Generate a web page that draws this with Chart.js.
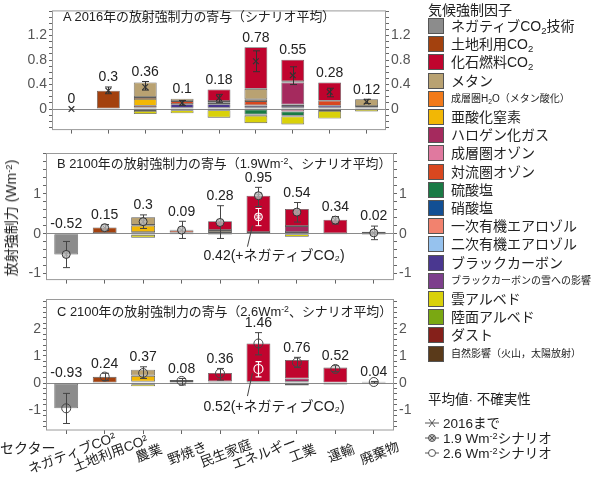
<!DOCTYPE html>
<html><head><meta charset="utf-8">
<script src="https://cdn.jsdelivr.net/npm/chart.js@4.4.0/dist/chart.umd.min.js"></script>
<style>
html,body{margin:0;padding:0;background:#fff;}
body{width:598px;height:478px;position:relative;overflow:hidden;font-family:'Liberation Sans','Noto Sans CJK JP',sans-serif;color:#222;}
canvas{position:absolute;left:0;}
.ttl{position:absolute;font-size:12.9px;line-height:16px;white-space:nowrap;color:#222;}
sub{font-size:0.68em;vertical-align:-0.3em;line-height:0;}
sup{font-size:0.68em;vertical-align:0.45em;line-height:0;}
#ytitle{position:absolute;left:10px;top:218px;transform:translate(-50%,-50%) rotate(-90deg);font-size:14px;white-space:nowrap;color:#222;}
#sector{position:absolute;left:0;top:439px;font-size:14px;line-height:18px;color:#222;}
.lg{position:absolute;left:428px;font-size:14px;line-height:18px;white-space:nowrap;color:#222;}
.sw{position:absolute;left:428px;width:14px;height:14px;border:1px solid #555;}
.lt{position:absolute;left:451px;font-size:14px;line-height:18px;white-space:nowrap;color:#222;}
.lt.sm{font-size:10px;}
.mk{position:absolute;left:424px;}
.mt{position:absolute;left:443px;font-size:13.5px;line-height:15px;white-space:nowrap;color:#222;}
</style>
</head><body>
<canvas id="cA" width="420" height="140" style="top:0px"></canvas>
<canvas id="cB" width="420" height="150" style="top:140px"></canvas>
<canvas id="cC" width="420" height="198" style="top:280px"></canvas>
<div class="ttl" style="left:63px;top:9px">A 2016年の放射強制力の寄与（シナリオ平均）</div>
<div class="ttl" style="left:57px;top:156px">B 2100年の放射強制力の寄与（1.9Wm<sup>-2</sup>、シナリオ平均）</div>
<div class="ttl" style="left:57px;top:304px">C 2100年の放射強制力の寄与（2.6Wm<sup>-2</sup>、シナリオ平均）</div>
<div id="ytitle">放射強制力 (Wm<sup>-2</sup>)</div>
<div id="sector">セクター</div>
<div id="legend"></div>
<script>
const FF = "'Liberation Sans','Noto Sans CJK JP','DejaVu Sans',sans-serif";
Chart.defaults.font.family = FF;

const sectors = ['ネガティブCO²','土地利用CO²','農業','野焼き','民生家庭','エネルギー','工業','運輸','廃棄物'];
const forcerNames = ['ネガティブCO<sub>2</sub>技術','土地利用CO<sub>2</sub>','化石燃料CO<sub>2</sub>','メタン','成層圏H<sub>2</sub>O（メタン酸化）','亜酸化窒素','ハロゲン化ガス','成層圏オゾン','対流圏オゾン','硫酸塩','硝酸塩','一次有機エアロゾル','二次有機エアロゾル','ブラックカーボン','ブラックカーボンの雪への影響','雲アルベド','陸面アルベド','ダスト','自然影響（火山，太陽放射）'];
const forcerSmall = [4,14,18];
const forcerColors = ['#8c8c8c','#a3410e','#c0042e','#b9a272','#f27a1a','#f2b705','#a52a5e','#e0799f','#d9471f','#1a7a45','#124f94','#f2826e','#96c2ee','#4a3790','#7d3f8c','#d9d10a','#7aa812','#85201a','#5a3a1a'];

// ---- Panel A: 2016 ----
const A_negCO2  = [0,0,0,0,0,0,0,0,0];
const A_luCO2   = [0,0.30,0,0,0,0,0,0,0];
const A_ffCO2   = [0,0,0,0,0.19,0.68,0.35,0.30,0];
const A_ch4     = [0,0,0.24,0.04,0.02,0.17,0.02,0,0.11];
const A_sh2o    = [0,0,0.03,0,0,0.03,0,0,0];
const A_n2o     = [0,0,0.11,0,0,0,0,0,0];
const A_halo    = [0,0,0,0,0,0,0.36,0,0];
const A_so3     = [0,0,0,0,0,0,-0.04,0,0];
const A_to3     = [0,0,0.03,0.05,0.03,0.07,0.025,0.08,0.025];
const A_so4     = [0,0,0,0,0,-0.09,-0.07,0,0];
const A_no3     = [0,0,-0.03,0,0,-0.02,-0.01,-0.03,0];
const A_poa     = [0,0,0,-0.02,-0.02,0,0,0,0];
const A_soa     = [0,0,0,0,0,0,0,0,0];
const A_bc      = [0,0,0.025,0.06,0.06,0.03,0.03,0.035,0.025];
const A_bcsnow  = [0,0,0,0.02,0.02,0.03,0.02,0.02,0];
const A_cloud   = [0,0,-0.05,-0.05,-0.12,-0.12,-0.13,-0.125,-0.04];
const A_landalb = [0,0,0,0,0,0,0,0,0];
const A_dust    = [0,0,0,0,0,0,0,0,0];
const A_natural = [0,0,0,0,0,0,0,0,0];
const A_mean = [0,0.3,0.36,0.1,0.18,0.78,0.55,0.28,0.12];
const A_low  = [0,0.25,0.31,0.06,0.11,0.61,0.40,0.20,0.09];
const A_high = [0,0.36,0.45,0.14,0.24,0.95,0.69,0.34,0.16];
const A_majorTicks = [0,0.4,0.8,1.2];

// ---- Panel B: 2100, 1.9 Wm-2 ----
const B_negCO2  = [-0.52,0,0,0,0,0,0,0,0];
const B_luCO2   = [0,0.155,0,0,0,0,0,0,0];
const B_ffCO2   = [0,0,0,0,0.22,0.91,0.43,0.34,0];
const B_ch4     = [0,0,0.19,0.02,0.05,0,0,0,0.04];
const B_sh2o    = [0,0,0.02,0,0,0,0,0,0];
const B_n2o     = [0,0,0.16,0,0,0,0,0,0];
const B_halo    = [0,0,0,0,0,0,0.15,0,0];
const B_so3     = [0,0,0,0,0,0,0,0,0];
const B_to3     = [0,0,0.02,0.05,0,0,0,0,0];
const B_so4     = [0,0,0,0,0,0,0,0,0];
const B_no3     = [0,0,-0.03,0,0,0,0,0,0];
const B_poa     = [0,0,0,0,0,0,0,0,0];
const B_soa     = [0,0,0,0,0,0,0,0,0];
const B_bc      = [0,0,0.02,0.03,0.04,0.04,0.04,0.01,0.01];
const B_bcsnow  = [0,0,0,0,0,0,0,0,0];
const B_cloud   = [0,0,-0.07,-0.01,-0.03,0,-0.08,-0.01,-0.03];
const B_landalb = [0,0,0,0,0,0,0,0,0];
const B_dust    = [0,0,0,0,0,0,0,0,0];
const B_natural = [0,0,0,0,0,0,0,0,0];
const B_mean = [-0.52,0.15,0.3,0.09,0.28,0.95,0.54,0.34,0.02];
const B_low  = [-0.85,0.08,0.13,-0.12,-0.12,0.68,0.29,0.24,-0.15];
const B_high = [-0.195,0.23,0.47,0.31,0.70,1.16,0.78,0.43,0.19];
const B_netMean = [null,null,null,null,null,0.42,null,null,null];
const B_netLow  = [null,null,null,null,null,0.20,null,null,null];
const B_netHigh = [null,null,null,null,null,0.63,null,null,null];
const B_majorTicks = [-1,0,1];

// ---- Panel C: 2100, 2.6 Wm-2 ----
const C_negCO2  = [-0.93,0,0,0,0,0,0,0,0];
const C_luCO2   = [0,0.23,0,0,0,0,0,0,0];
const C_ffCO2   = [0,0,0,0,0.30,1.41,0.68,0.57,0];
const C_ch4     = [0,0,0.21,0.03,0.02,0,0,0,0.03];
const C_sh2o    = [0,0,0.02,0,0,0,0,0,0];
const C_n2o     = [0,0,0.20,0,0,0,0,0,0];
const C_halo    = [0,0,0,0,0,0,0.12,0,0];
const C_so3     = [0,0,0,0,0,0,0,0,0];
const C_to3     = [0,0,0.03,0.04,0,0,0,0,0];
const C_so4     = [0,0,0,0,0,0,-0.03,0,0];
const C_no3     = [0,0,-0.04,0,0,0,0,0,0];
const C_poa     = [0,0,0,0,0,0,0,0,0];
const C_soa     = [0,0,0,0,0,0,0,0,0];
const C_bc      = [0,0,0.03,0.04,0.05,0.05,0.05,0,0.02];
const C_bcsnow  = [0,0,0,0,0,0,0,0,0];
const C_cloud   = [0,0,-0.08,-0.03,-0.01,0,-0.06,-0.05,-0.01];
const C_landalb = [0,0,0,0,0,0,0,0,0];
const C_dust    = [0,0,0,0,0,0,0,0,0];
const C_natural = [0,0,0,0,0,0,0,0,0];
const C_mean = [-0.93,0.24,0.37,0.08,0.36,1.46,0.76,0.52,0.04];
const C_low  = [-1.49,0.09,0.17,-0.07,0.11,1.04,0.57,0.42,0.0];
const C_high = [-0.38,0.36,0.60,0.17,0.54,1.86,0.95,0.64,0.06];
const C_netMean = [null,null,null,null,null,0.52,null,null,null];
const C_netLow  = [null,null,null,null,null,0.23,null,null,null];
const C_netHigh = [null,null,null,null,null,0.79,null,null,null];
const C_majorTicks = [-1,0,1,2];

const A_parts = [A_negCO2,A_luCO2,A_ffCO2,A_ch4,A_sh2o,A_n2o,A_halo,A_so3,A_to3,A_so4,A_no3,A_poa,A_soa,A_bc,A_bcsnow,A_cloud,A_landalb,A_dust,A_natural];
const B_parts = [B_negCO2,B_luCO2,B_ffCO2,B_ch4,B_sh2o,B_n2o,B_halo,B_so3,B_to3,B_so4,B_no3,B_poa,B_soa,B_bc,B_bcsnow,B_cloud,B_landalb,B_dust,B_natural];
const C_parts = [C_negCO2,C_luCO2,C_ffCO2,C_ch4,C_sh2o,C_n2o,C_halo,C_so3,C_to3,C_so4,C_no3,C_poa,C_soa,C_bc,C_bcsnow,C_cloud,C_landalb,C_dust,C_natural];

// ---- legend (HTML) ----
(function(){
  const L = document.getElementById('legend');
  let h = '<div class="lg" style="top:1px">気候強制因子</div>';
  forcerNames.forEach((n,k)=>{
    const top = 18 + k*18.2;
    h += `<div class="sw" style="top:${top.toFixed(1)}px;background:${forcerColors[k]}"></div>`;
    h += `<div class="lt${forcerSmall.includes(k)?' sm':''}" style="top:${(top-1).toFixed(1)}px">${n}</div>`;
  });
  h += '<div class="lg" style="top:391px;font-size:13.5px">平均値· 不確実性</div>';
  const sym = [
    '<line x1="1" y1="6" x2="15" y2="6"/><line x1="5" y1="2" x2="11" y2="10"/><line x1="5" y1="10" x2="11" y2="2"/>',
    '<line x1="1" y1="6" x2="15" y2="6"/><circle cx="8" cy="6" r="3.5" fill="#bbb"/><line x1="5.5" y1="3.5" x2="10.5" y2="8.5"/><line x1="5.5" y1="8.5" x2="10.5" y2="3.5"/>',
    '<line x1="1" y1="6" x2="15" y2="6"/><circle cx="8" cy="6" r="3.5" fill="#fff"/>'
  ];
  const mtxt = ['2016まで','1.9 Wm<sup>-2</sup>シナリオ','2.6 Wm<sup>-2</sup>シナリオ'];
  [423,438,453].forEach((cy,j)=>{
    h += `<svg class="mk" style="top:${cy-6}px" width="16" height="12"><g stroke="#555" stroke-width="1" fill="none">${sym[j]}</g></svg>`;
    h += `<div class="mt" style="top:${cy-7.5}px">${mtxt[j]}</div>`;
  });
  L.innerHTML = h;
})();

function tickList(lo, hi, step){
  const out=[]; const n=Math.round((hi-lo)/step);
  for(let i=0;i<=n;i++) out.push(Math.round((lo+i*step)*1000)/1000);
  return out;
}

function yAxis(pos, min, max, minorTicks, majors, width, grid){
  return {
    type:'linear', position:pos, min:min, max:max, stacked: pos==='left',
    afterBuildTicks: s => { s.ticks = minorTicks.map(v=>({value:v})); },
    afterFit: s => { s.width = width; },
    ticks:{ autoSkip:false, color:'#555', padding:2, font:{size:14, family:FF},
      callback: v => { const r=Math.round(v*1000)/1000; return majors.includes(r) ? String(r) : ''; } },
    grid:{ drawOnChartArea:grid, tickLength:4, tickColor:'#666', lineWidth:1,
      color: c => (c.tick && Math.abs(c.tick.value)<1e-9) ? '#8a8a8a' : 'rgba(0,0,0,0)' },
    border:{display:false}
  };
}

function makePanel(o){
  const datasets=[];
  const barDs = (k,data)=>({type:'bar', label:forcerNames[k], data:data, backgroundColor:forcerColors[k],
    borderColor:'#5c5c5c', borderWidth:0.8, borderSkipped:false, stack:'s', barPercentage:0.62, categoryPercentage:1});
  o.parts.forEach((arr,k)=>{ if(arr.some(v=>v<0)) datasets.push(barDs(k, arr.map(v=>v<0?v:null))); });
  for(let k=o.parts.length-1;k>=0;k--){ const arr=o.parts[k]; if(arr.some(v=>v>0)) datasets.push(barDs(k, arr.map(v=>v>0?v:null))); }
  o.markers.forEach((m,j)=> datasets.push(Object.assign({type:'line', showLine:false, stack:'m'+j, order:-1, clip:false, pointHoverRadius:4}, m)));

  let done=false;
  const extras = {
    id:'extras',
    beforeDatasetsDraw(){ done=false; },
    beforeDatasetDraw(chart,args){
      if(done || args.meta.type!=='line') return;
      done=true;
      const ctx=chart.ctx, xs=chart.scales.x, ys=chart.scales.y;
      o.errs.forEach(e=>{
        ctx.save(); ctx.strokeStyle=e.color; ctx.lineWidth=e.width;
        e.low.forEach((lo,i)=>{ const hi=e.high[i]; if(lo==null||hi==null||lo===hi) return;
          const x=Math.round(xs.getPixelForValue(i))+0.5, y1=ys.getPixelForValue(lo), y2=ys.getPixelForValue(hi);
          ctx.beginPath(); ctx.moveTo(x,y1); ctx.lineTo(x,y2);
          ctx.moveTo(x-e.cap,y1); ctx.lineTo(x+e.cap,y1); ctx.moveTo(x-e.cap,y2); ctx.lineTo(x+e.cap,y2); ctx.stroke(); });
        ctx.restore();
      });
    },
    afterDatasetsDraw(chart){
      const ctx=chart.ctx, xs=chart.scales.x, ys=chart.scales.y;
      ctx.save();
      ctx.fillStyle='#222'; ctx.font='14px '+FF; ctx.textAlign='center'; ctx.textBaseline='middle';
      o.mean.forEach((m,i)=>{
        let pos=0; o.parts.forEach(a=>{ if(a[i]>0) pos+=a[i]; });
        const yTop = Math.min(ys.getPixelForValue(pos), ys.getPixelForValue(o.high[i]));
        ctx.fillText(String(m), xs.getPixelForValue(i), yTop-9.5);
      });
      if(o.net){
        const i=o.net.mean.findIndex(v=>v!=null);
        const cx=xs.getPixelForValue(i), y0=ys.getPixelForValue(0);
        ctx.strokeStyle='#444'; ctx.lineWidth=1;
        ctx.beginPath(); ctx.moveTo(cx-6,y0-o.net.l1); ctx.lineTo(cx-11,y0+13); ctx.stroke();
        ctx.textAlign='left';
        ctx.fillText(o.net.mean[i]+'(+ネガティブCO₂)', cx-55, y0+o.net.ty);
      }
      ctx.restore();
    },
    afterDraw(chart){
      const ctx=chart.ctx, a=chart.chartArea;
      ctx.save();
      ctx.strokeStyle='#9a9a9a'; ctx.lineWidth=1;
      ctx.strokeRect(a.left-0.5, a.top+0.5, a.right-a.left+1, a.bottom-a.top-0.5);
      if(o.xlabels){
        const xs=chart.scales.x;
        ctx.fillStyle='#222'; ctx.font='13.5px '+FF; ctx.textAlign='center'; ctx.textBaseline='middle';
        sectors.forEach((s,i)=>{
          ctx.save(); ctx.translate(xs.getPixelForValue(i)+6, a.bottom+24); ctx.rotate(-21*Math.PI/180);
          ctx.fillText(s,0,0); ctx.restore();
        });
      }
      ctx.restore();
    }
  };

  return new Chart(document.getElementById(o.id), {
    data:{ labels:sectors, datasets:datasets },
    options:{
      responsive:false, animation:false, events:[],
      layout:{ padding:{top:o.padTop,left:0,right:0,bottom:0}, autoPadding:false },
      plugins:{ legend:{display:false}, tooltip:{enabled:false} },
      scales:{
        x:{ type:'category', offset:true, stacked:true,
          grid:{offset:false, drawOnChartArea:false, tickLength:4, tickColor:'#666'},
          ticks:{display:false}, border:{display:false},
          afterFit: s => { s.height = o.xH; } },
        y: yAxis('left', o.min, o.max, o.ticks, o.majors, o.leftW, true),
        y2: yAxis('right', o.min, o.max, o.ticks, o.majors, o.rightW, false)
      }
    },
    plugins:[extras]
  });
}

makePanel({ id:'cA', parts:A_parts, mean:A_mean, high:A_high, min:-0.335, max:1.61,
  ticks:tickList(-0.3,1.6,0.1), majors:A_majorTicks, leftW:53, rightW:35, xH:7, padTop:5,
  markers:[{data:A_mean, pointStyle:'crossRot', pointRadius:4, pointBorderColor:'#333', pointBackgroundColor:'#333', pointBorderWidth:1.2}],
  errs:[{low:A_low, high:A_high, color:'#333', cap:3.5, width:1}] });

makePanel({ id:'cB', parts:B_parts, mean:B_mean, high:B_high, min:-1.15, max:2.02,
  ticks:tickList(-1,2,0.2), majors:B_majorTicks, leftW:47, rightW:27, xH:7, padTop:13,
  markers:[
    {data:B_mean, pointStyle:'circle', pointRadius:4, pointBorderColor:'#333', pointBackgroundColor:'rgba(190,190,190,0.75)', pointBorderWidth:1},
    {data:B_mean, pointStyle:'crossRot', pointRadius:3.5, pointBorderColor:'#333', pointBackgroundColor:'#333', pointBorderWidth:1},
    {data:B_netMean, pointStyle:'circle', pointRadius:4, pointBorderColor:'#fff', pointBackgroundColor:'rgba(255,255,255,0.25)', pointBorderWidth:1},
    {data:B_netMean, pointStyle:'crossRot', pointRadius:3.5, pointBorderColor:'#fff', pointBackgroundColor:'#fff', pointBorderWidth:1}],
  errs:[{low:B_low, high:B_high, color:'#444', cap:3.5, width:1},{low:B_netLow, high:B_netHigh, color:'#fff', cap:3, width:1}],
  net:{mean:B_netMean, l1:8, ty:22} });

makePanel({ id:'cC', parts:C_parts, mean:C_mean, high:C_high, min:-1.73, max:3.1,
  ticks:tickList(-1.6,3.0,0.2), majors:C_majorTicks, leftW:47, rightW:27, xH:48, padTop:19, xlabels:true,
  markers:[
    {data:C_mean, pointStyle:'circle', pointRadius:4.5, pointBorderColor:'#444', pointBackgroundColor:'rgba(255,255,255,0)', pointBorderWidth:1},
    {data:C_netMean, pointStyle:'circle', pointRadius:4.5, pointBorderColor:'#fff', pointBackgroundColor:'rgba(255,255,255,0)', pointBorderWidth:1.2}],
  errs:[{low:C_low, high:C_high, color:'#444', cap:3.5, width:1},{low:C_netLow, high:C_netHigh, color:'#fff', cap:3, width:1.2}],
  net:{mean:C_netMean, l1:10, ty:24} });
</script>
</body></html>
